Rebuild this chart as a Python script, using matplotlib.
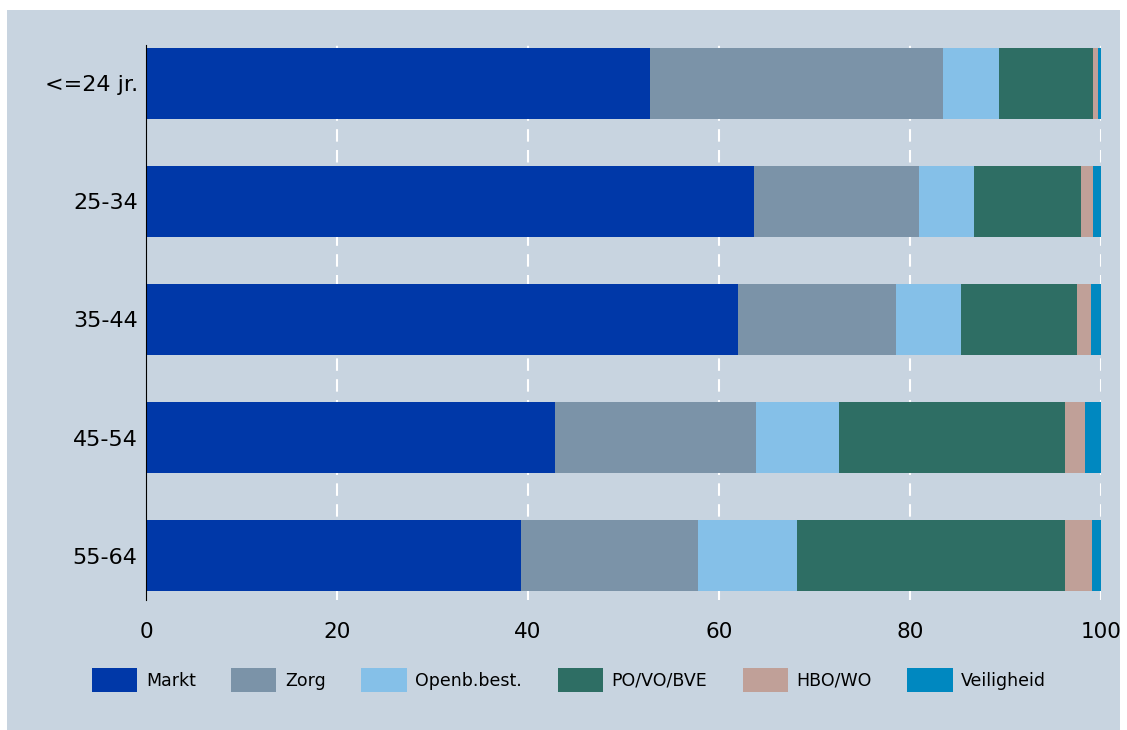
import numpy as np
import matplotlib.pyplot as plt
from matplotlib.patches import Rectangle

groups = ['<=24 jr.', '25-34', '35-44', '45-54', '55-64']
sectors = ['Markt', 'Zorg', 'Openb.best.', 'PO/VO/BVE', 'HBO/WO', 'Veiligheid']
markt = [52.8, 63.7, 62.0, 42.8, 39.3]
zorg = [30.7, 17.2, 16.5, 21.1, 18.5]
openb = [5.8, 5.8, 6.8, 8.7, 10.4]
povo = [9.9, 11.2, 12.2, 23.6, 28.0]
hbowo = [0.5, 1.3, 1.5, 2.1, 2.9]
veilig = [0.3, 0.9, 1.0, 1.7, 1.0]
colors = ['#0038a8', '#7b93a8', '#85c0e8', '#2e6e64', '#c0a098', '#0088c0']
bg = '#c8d4e0'

fig = plt.figure(figsize=(11.27, 7.3), dpi=100)
fig.patch.set_facecolor('white')
fig.patches.append(Rectangle((7 / 1127, 0), 1113 / 1127, 1 - 10 / 730,
                             transform=fig.transFigure, facecolor=bg,
                             edgecolor='none', zorder=-10))

ax = fig.add_axes([146 / 1127, 1 - 600 / 730, 955 / 1127, 555 / 730])
ax.set_facecolor('none')

y = np.arange(len(groups))
left = np.zeros(len(groups))
for vals, name, c in zip([markt, zorg, openb, povo, hbowo, veilig], sectors, colors):
    ax.barh(y, vals, left=left, height=0.6, color=c, label=name, zorder=3)
    left += np.array(vals)

ax.set_xlim(0, 100)
ax.set_ylim(4.377, -0.326)
ax.set_yticks(y)
ax.set_yticklabels(groups, fontsize=16)
ax.set_xticks([0, 20, 40, 60, 80, 100])
ax.tick_params(axis='x', labelsize=15.5, length=0, pad=16)
ax.tick_params(axis='y', length=0, pad=6)
for v in [20, 40, 60, 80, 100]:
    ax.axvline(v, color='white', lw=1.5, ls=(0, (6, 4)), zorder=1)
for s in ['top', 'right', 'bottom']:
    ax.spines[s].set_visible(False)
ax.spines['left'].set_color('black')
ax.spines['left'].set_zorder(4)

fig.legend(loc='center', bbox_to_anchor=(0.505, 1 - 680 / 730), ncol=6,
           frameon=False, fontsize=12.5, handlelength=2.6, handleheight=1.7,
           columnspacing=2.05, handletextpad=0.5)

plt.savefig('out.png', dpi=100, facecolor=fig.get_facecolor())
